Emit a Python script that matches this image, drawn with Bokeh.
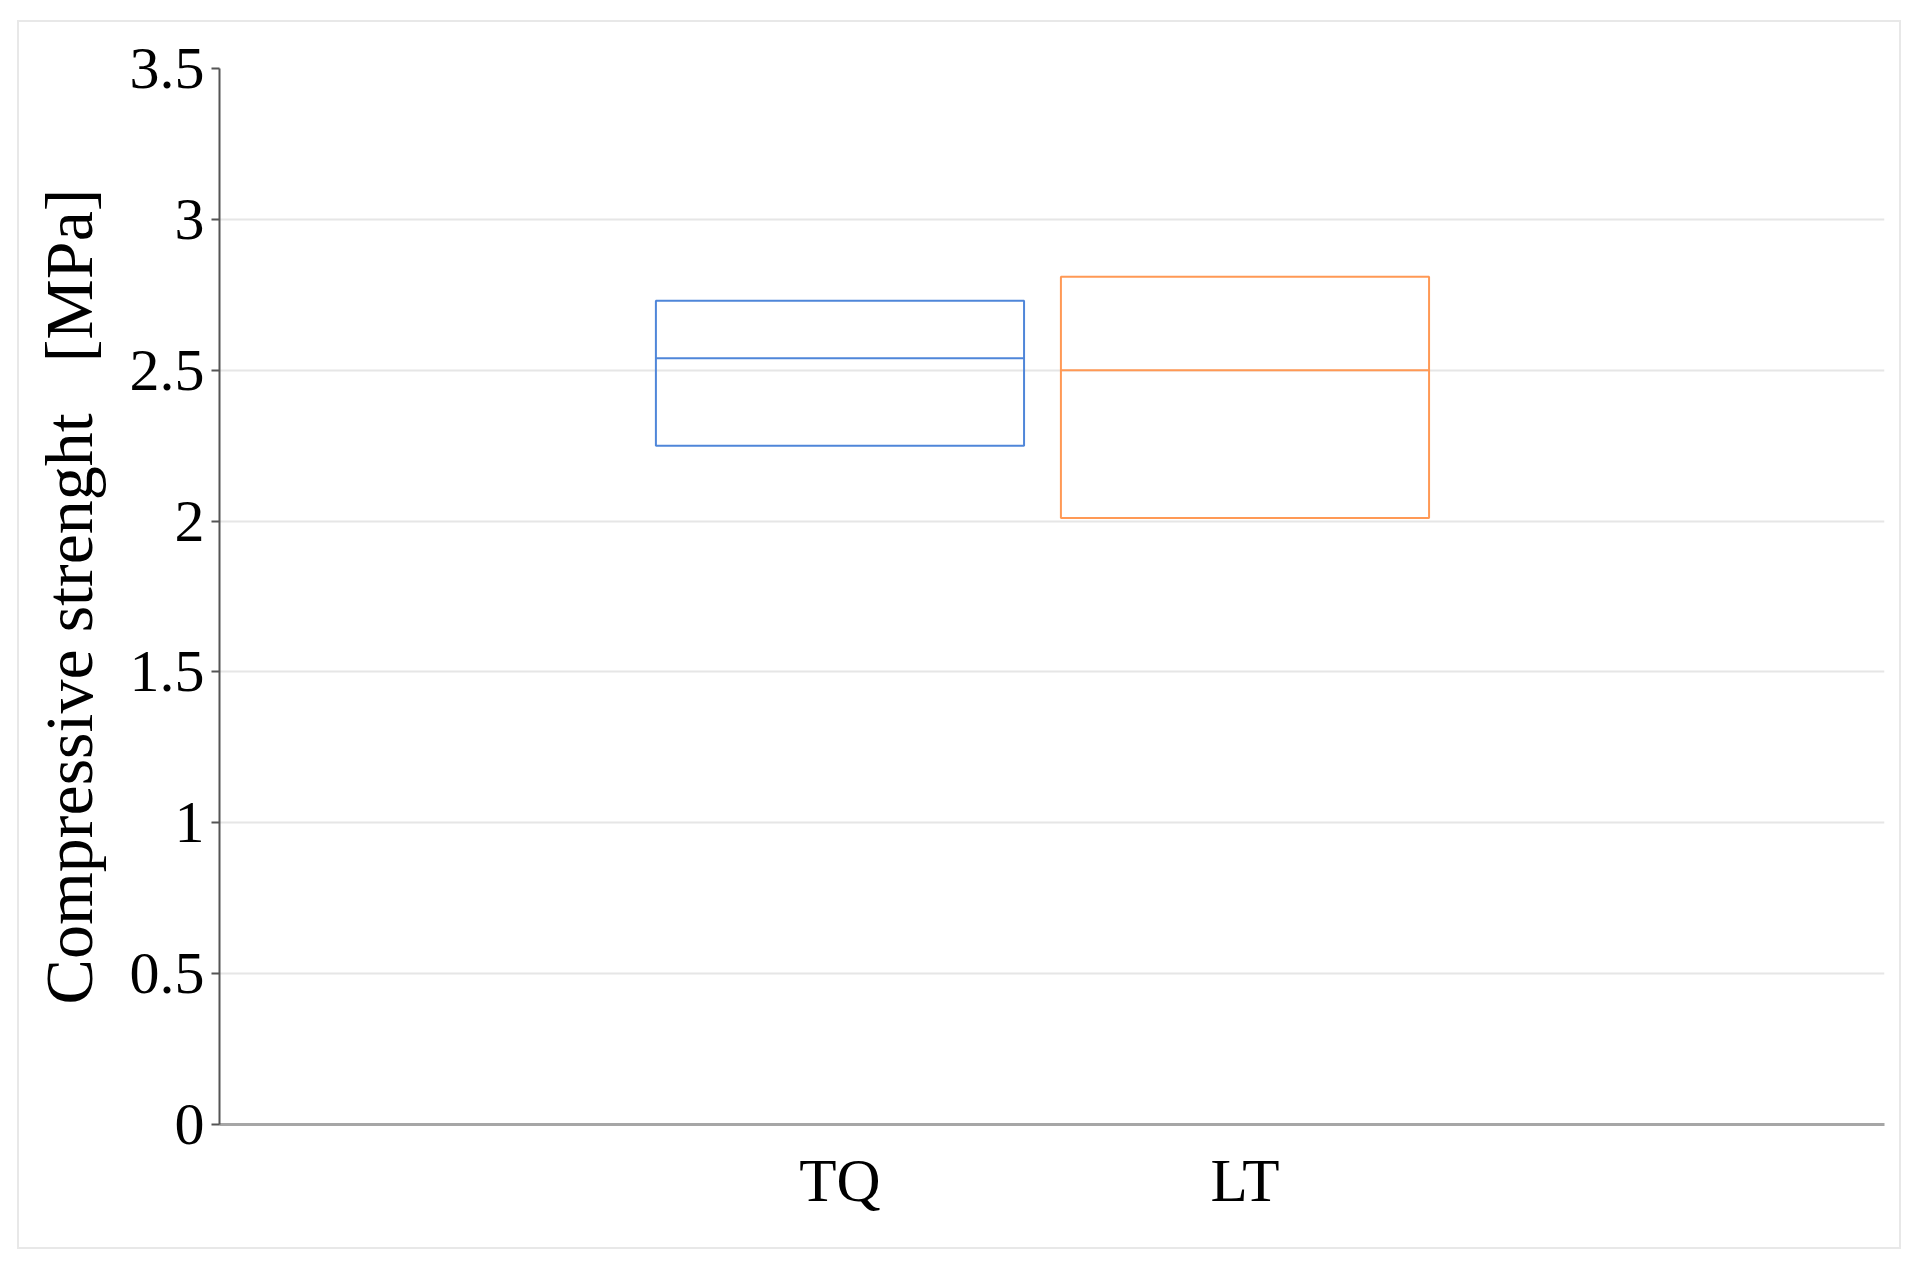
from bokeh.plotting import figure
from bokeh.embed import file_html
from bokeh.resources import INLINE
from bokeh.models import FixedTicker, Range1d

# ---- data ----
categories = ["TQ", "LT"]
q1 = [2.25, 2.01]
median = [2.54, 2.50]
q3 = [2.73, 2.81]
colors = ["#4f86d9", "#ff9955"]
y_ticks = [0, 0.5, 1, 1.5, 2, 2.5, 3, 3.5]
y_tick_labels = ["0", "0.5", "1", "1.5", "2", "2.5", "3", "3.5"]

FONT = "Liberation Serif"

x_pos = list(range(len(categories)))

p = figure(
    width=1884, height=1229,
    output_backend="svg", toolbar_location=None,
    x_range=Range1d(-1.532, 2.579), y_range=Range1d(0, 3.5),
    min_border_left=200, min_border_right=19,
    min_border_top=46, min_border_bottom=127,
    margin=(20, 0, 0, 17),
    styles={"border": "2px solid #e8e8e8", "box-sizing": "border-box"},
)
p.outline_line_color = None
p.background_fill_color = "white"
p.border_fill_color = "white"

# boxes
w = 0.909
for i, c in enumerate(categories):
    p.quad(left=[x_pos[i] - w / 2], right=[x_pos[i] + w / 2],
           bottom=[q1[i]], top=[q3[i]],
           fill_color=None, line_color=colors[i], line_width=2)
    p.segment(x0=[x_pos[i] - w / 2], x1=[x_pos[i] + w / 2],
              y0=[median[i]], y1=[median[i]],
              line_color=colors[i], line_width=2)

# grid
p.xgrid.grid_line_color = None
p.ygrid.grid_line_color = "#e6e6e6"
p.ygrid.grid_line_width = 2
p.ygrid.ticker = FixedTicker(ticks=y_ticks)

# y axis
ya = p.yaxis[0]
ya.ticker = FixedTicker(ticks=y_ticks)
ya.major_label_overrides = {t: l for t, l in zip(y_ticks, y_tick_labels)}
ya.axis_line_color = "#555555"
ya.axis_line_width = 2
ya.major_tick_line_color = "#555555"
ya.major_tick_line_width = 2
ya.major_tick_out = 8
ya.major_tick_in = 0
ya.minor_tick_line_color = None
ya.major_label_text_font = FONT
ya.major_label_text_font_size = "60px"
ya.major_label_text_color = "black"
ya.major_label_standoff = 7
ya.axis_label = "Compressive strenght \u00a0 [MPa]"
ya.axis_label_text_font = FONT
ya.axis_label_text_font_size = "68px"
ya.axis_label_text_font_style = "normal"
ya.axis_label_text_color = "black"
ya.axis_label_standoff = 20

# x axis
xa = p.xaxis[0]
xa.ticker = FixedTicker(ticks=x_pos)
xa.major_label_overrides = {i: c for i, c in zip(x_pos, categories)}
xa.axis_line_color = "#a6a6a6"
xa.axis_line_width = 3
xa.major_tick_line_color = None
xa.minor_tick_line_color = None
xa.major_label_text_font = FONT
xa.major_label_text_font_size = "61px"
xa.major_label_text_color = "black"
xa.major_label_standoff = 16

open("out.html", "w").write(file_html(p, INLINE))
